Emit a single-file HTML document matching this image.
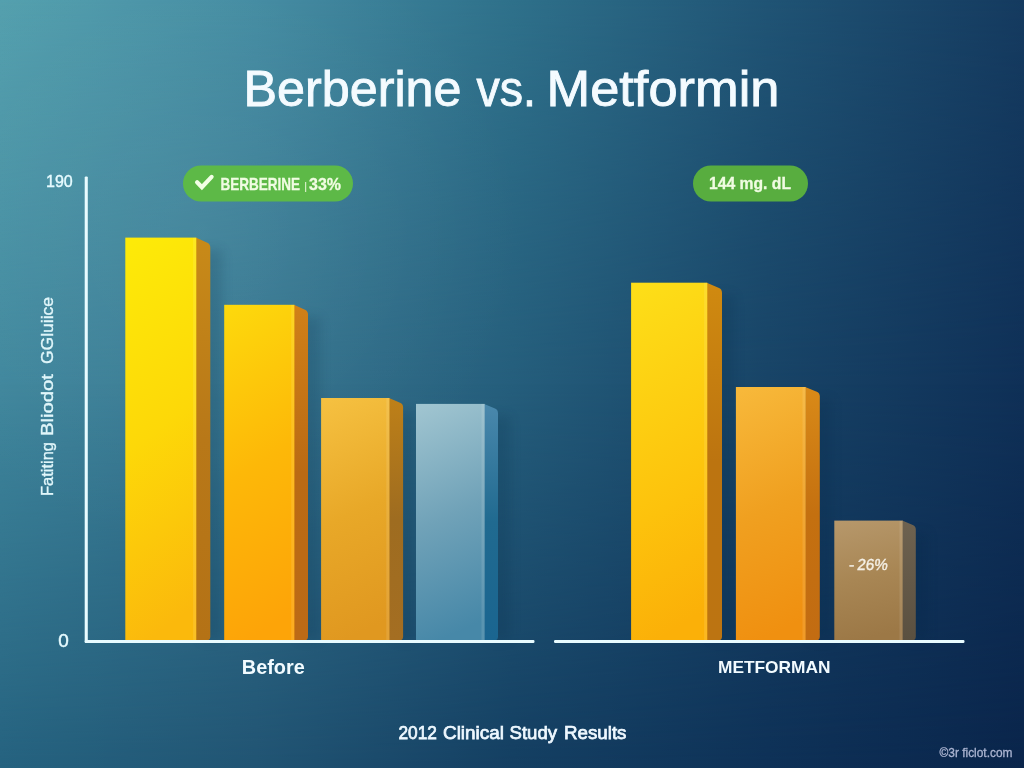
<!DOCTYPE html>
<html lang="en"><head><meta charset="utf-8"><title>Berberine vs. Metformin</title>
<style>
html,body{margin:0;padding:0;background:#245c7a;}
body{width:1024px;height:768px;overflow:hidden;}
svg{display:block;font-family:"Liberation Sans",sans-serif;}
</style></head><body>
<svg width="1024" height="768" viewBox="0 0 1024 768">
<defs>
<linearGradient id="gT" x1="0" y1="0" x2="1" y2="0"><stop offset="0" stop-color="rgb(84,160,174)"/><stop offset="0.25" stop-color="rgb(68,140,162)"/><stop offset="0.5" stop-color="rgb(47,113,139)"/><stop offset="0.75" stop-color="rgb(32,84,117)"/><stop offset="1" stop-color="rgb(21,59,96)"/></linearGradient>
<linearGradient id="gM" x1="0" y1="0" x2="1" y2="0"><stop offset="0" stop-color="rgb(64,135,157)"/><stop offset="0.25" stop-color="rgb(53,116,142)"/><stop offset="0.5" stop-color="rgb(37,94,124)"/><stop offset="0.75" stop-color="rgb(24,68,103)"/><stop offset="1" stop-color="rgb(15,48,87)"/></linearGradient>
<linearGradient id="gB" x1="0" y1="0" x2="1" y2="0"><stop offset="0" stop-color="rgb(37,98,127)"/><stop offset="0.25" stop-color="rgb(33,84,115)"/><stop offset="0.5" stop-color="rgb(20,63,98)"/><stop offset="0.75" stop-color="rgb(14,49,87)"/><stop offset="1" stop-color="rgb(10,37,75)"/></linearGradient>
<linearGradient id="a1" gradientUnits="userSpaceOnUse" x1="0" y1="0" x2="0" y2="384"><stop offset="0" stop-color="#000"/><stop offset="1" stop-color="#fff"/></linearGradient>
<linearGradient id="a2" gradientUnits="userSpaceOnUse" x1="0" y1="384" x2="0" y2="768"><stop offset="0" stop-color="#000"/><stop offset="1" stop-color="#fff"/></linearGradient>
<mask id="m1" maskUnits="userSpaceOnUse" x="0" y="0" width="1024" height="768"><rect width="1024" height="768" fill="url(#a1)"/></mask>
<mask id="m2" maskUnits="userSpaceOnUse" x="0" y="0" width="1024" height="768"><rect width="1024" height="768" fill="url(#a2)"/></mask>
<radialGradient id="hl" gradientUnits="userSpaceOnUse" cx="200" cy="230" r="330"><stop offset="0" stop-color="#fff" stop-opacity="0.045"/><stop offset="1" stop-color="#fff" stop-opacity="0"/></radialGradient>
<filter id="blur" x="-50%" y="-10%" width="200%" height="120%"><feGaussianBlur stdDeviation="6"/></filter>
<linearGradient id="f0" x1="0.2" y1="0" x2="0.33" y2="1"><stop offset="0" stop-color="#fdea08"/><stop offset="0.5" stop-color="#fdd808"/><stop offset="1" stop-color="#fbb90c"/></linearGradient>
<linearGradient id="s0" x1="0" y1="0" x2="0" y2="1"><stop offset="0" stop-color="#c88a18"/><stop offset="0.5" stop-color="#b87818"/><stop offset="1" stop-color="#b47216"/></linearGradient>
<linearGradient id="f1" x1="0.2" y1="0" x2="0.33" y2="1"><stop offset="0" stop-color="#fdd80c"/><stop offset="0.5" stop-color="#fdb808"/><stop offset="1" stop-color="#fda408"/></linearGradient>
<linearGradient id="s1" x1="0" y1="0" x2="0" y2="1"><stop offset="0" stop-color="#d08018"/><stop offset="0.5" stop-color="#ba6a14"/><stop offset="1" stop-color="#bc6a16"/></linearGradient>
<linearGradient id="f2" x1="0.2" y1="0" x2="0.33" y2="1"><stop offset="0" stop-color="#f5c040"/><stop offset="0.5" stop-color="#e8a828"/><stop offset="1" stop-color="#e09820"/></linearGradient>
<linearGradient id="s2" x1="0" y1="0" x2="0" y2="1"><stop offset="0" stop-color="#be8018"/><stop offset="0.5" stop-color="#9e6c20"/><stop offset="1" stop-color="#a46e22"/></linearGradient>
<linearGradient id="f3" x1="0.2" y1="0" x2="0.33" y2="1"><stop offset="0" stop-color="#9fc4d0"/><stop offset="0.5" stop-color="#70a2b8"/><stop offset="1" stop-color="#4788a8"/></linearGradient>
<linearGradient id="s3" x1="0" y1="0" x2="0" y2="1"><stop offset="0" stop-color="#4a88ac"/><stop offset="0.5" stop-color="#206a90"/><stop offset="1" stop-color="#1a6590"/></linearGradient>
<linearGradient id="f4" x1="0.2" y1="0" x2="0.33" y2="1"><stop offset="0" stop-color="#fdde18"/><stop offset="0.65" stop-color="#fdc20c"/><stop offset="1" stop-color="#fbb008"/></linearGradient>
<linearGradient id="s4" x1="0" y1="0" x2="0" y2="1"><stop offset="0" stop-color="#d08a10"/><stop offset="0.5" stop-color="#bc7410"/><stop offset="1" stop-color="#bc7412"/></linearGradient>
<linearGradient id="f5" x1="0.2" y1="0" x2="0.33" y2="1"><stop offset="0" stop-color="#f7b83a"/><stop offset="0.5" stop-color="#f0a020"/><stop offset="1" stop-color="#f09010"/></linearGradient>
<linearGradient id="s5" x1="0" y1="0" x2="0" y2="1"><stop offset="0" stop-color="#d98a18"/><stop offset="0.5" stop-color="#c47010"/><stop offset="1" stop-color="#c26c12"/></linearGradient>
<linearGradient id="f6" x1="0.2" y1="0" x2="0.33" y2="1"><stop offset="0" stop-color="#b6976a"/><stop offset="0.5" stop-color="#a88654"/><stop offset="1" stop-color="#9c7846"/></linearGradient>
<linearGradient id="s6" x1="0" y1="0" x2="0" y2="1"><stop offset="0" stop-color="#6e6250"/><stop offset="1" stop-color="#5a5040"/></linearGradient>
</defs>
<rect width="1024" height="768" fill="url(#gT)"/>
<rect width="1024" height="768" fill="url(#gM)" mask="url(#m1)"/>
<rect width="1024" height="768" fill="url(#gB)" mask="url(#m2)"/>
<rect width="1024" height="768" fill="url(#hl)"/>
<rect x="200.3" y="249.6" width="22" height="390.9" fill="#062040" opacity="0.16" filter="url(#blur)"/>
<path d="M195.8 237.6 L207.3 242.834 Q210.3 244.2 210.3 247.7 L210.3 636.5 Q210.3 640.5 206.3 640.5 L195.8 640.5 Z" fill="url(#s0)"/>
<rect x="125.3" y="237.6" width="71" height="402.9" fill="url(#f0)"/>
<rect x="193.1" y="237.6" width="3" height="402.9" fill="#fff" opacity="0.10"/>
<rect x="298.4" y="316.8" width="21.6" height="323.7" fill="#062040" opacity="0.16" filter="url(#blur)"/>
<path d="M293.9 304.8 L305 309.76 Q308 311.1 308 314.6 L308 636.5 Q308 640.5 304 640.5 L293.9 640.5 Z" fill="url(#s1)"/>
<rect x="224.2" y="304.8" width="70.2" height="335.7" fill="url(#f1)"/>
<rect x="291.2" y="304.8" width="3" height="335.7" fill="#fff" opacity="0.10"/>
<rect x="393.5" y="410" width="21.6" height="230.5" fill="#062040" opacity="0.16" filter="url(#blur)"/>
<path d="M389 398 L400.1 402.723 Q403.1 404 403.1 407.5 L403.1 636.5 Q403.1 640.5 399.1 640.5 L389 640.5 Z" fill="url(#s2)"/>
<rect x="321.1" y="398" width="68.4" height="242.5" fill="url(#f2)"/>
<rect x="386.3" y="398" width="3" height="242.5" fill="#fff" opacity="0.10"/>
<rect x="488.7" y="415.9" width="21.3" height="224.6" fill="#062040" opacity="0.16" filter="url(#blur)"/>
<path d="M484.2 403.9 L495 408.596 Q498 409.9 498 413.4 L498 636.5 Q498 640.5 494 640.5 L484.2 640.5 Z" fill="url(#s3)"/>
<rect x="416" y="403.9" width="68.7" height="236.6" fill="url(#f3)"/>
<rect x="481.5" y="403.9" width="3" height="236.6" fill="#fff" opacity="0.10"/>
<rect x="711.3" y="294.7" width="22.7" height="345.8" fill="#062040" opacity="0.16" filter="url(#blur)"/>
<path d="M706.8 282.7 L719 287.997 Q722 289.3 722 292.8 L722 636.5 Q722 640.5 718 640.5 L706.8 640.5 Z" fill="url(#s4)"/>
<rect x="631.1" y="282.7" width="76.2" height="357.8" fill="url(#f4)"/>
<rect x="704.1" y="282.7" width="3" height="357.8" fill="#fff" opacity="0.10"/>
<rect x="809.7" y="399" width="22.1" height="241.5" fill="#062040" opacity="0.16" filter="url(#blur)"/>
<path d="M805.2 387 L816.8 391.767 Q819.8 393 819.8 396.5 L819.8 636.5 Q819.8 640.5 815.8 640.5 L805.2 640.5 Z" fill="url(#s5)"/>
<rect x="735.9" y="387" width="69.8" height="253.5" fill="url(#f5)"/>
<rect x="802.5" y="387" width="3" height="253.5" fill="#fff" opacity="0.10"/>
<rect x="906.7" y="532.6" width="21.1" height="107.9" fill="#062040" opacity="0.16" filter="url(#blur)"/>
<path d="M902.2 520.6 L912.8 524.887 Q915.8 526.1 915.8 529.6 L915.8 636.5 Q915.8 640.5 911.8 640.5 L902.2 640.5 Z" fill="url(#s6)"/>
<rect x="834.3" y="520.6" width="68.4" height="119.9" fill="url(#f6)"/>
<rect x="899.5" y="520.6" width="3" height="119.9" fill="#fff" opacity="0.10"/>
<rect x="84.7" y="176.4" width="3.1" height="466.5" rx="1.2" fill="#e8fbff"/>
<rect x="84.7" y="640.1" width="449.8" height="2.9" rx="1.2" fill="#e8fbff"/>
<rect x="554" y="640.1" width="410.5" height="2.9" rx="1.2" fill="#e8fbff"/>
<rect x="183" y="165.5" width="170" height="36" rx="18" fill="#5db947"/>
<path d="M197.1 182.3 L201.9 187.3 L211.6 176.9" fill="none" stroke="#f2ffe6" stroke-width="4.2" stroke-linecap="round" stroke-linejoin="miter"/>
<rect x="693" y="165.5" width="115" height="36" rx="18" fill="#58ad3f"/>
<text x="243.5" y="105.7" font-size="49.5" font-weight="normal" fill="#f4fbff" textLength="218" lengthAdjust="spacingAndGlyphs" stroke="#f4fbff" stroke-width="0.9">Berberine</text>
<text x="476.5" y="105.7" font-size="49.5" font-weight="normal" fill="#f4fbff" textLength="59.5" lengthAdjust="spacingAndGlyphs" stroke="#f4fbff" stroke-width="0.9">vs.</text>
<text x="546.5" y="105.7" font-size="49.5" font-weight="normal" fill="#f4fbff" textLength="233" lengthAdjust="spacingAndGlyphs" stroke="#f4fbff" stroke-width="0.9">Metformin</text>
<text x="46" y="187" font-size="16.4" font-weight="normal" fill="#e6fbff" textLength="26.8" lengthAdjust="spacingAndGlyphs" stroke="#e6fbff" stroke-width="0.4">190</text>
<text x="58.2" y="646.5" font-size="17.5" font-weight="normal" fill="#e6fbff" textLength="10.5" lengthAdjust="spacingAndGlyphs" stroke="#e6fbff" stroke-width="0.45">0</text>
<g transform="translate(53,496) rotate(-90)" fill="#e0f6fa" stroke="#e0f6fa" stroke-width="0.35" font-size="16"><text x="0" y="0" textLength="54" lengthAdjust="spacingAndGlyphs">Fatiting</text><text x="60" y="0" textLength="62" lengthAdjust="spacingAndGlyphs">Bliodot</text><text x="132" y="0" textLength="67" lengthAdjust="spacingAndGlyphs">GGluiice</text></g>
<text x="241.8" y="673.8" font-size="19.5" font-weight="bold" fill="#f2fbff" textLength="63" lengthAdjust="spacingAndGlyphs" >Before</text>
<text x="718" y="672.8" font-size="17" font-weight="bold" fill="#f2fbff" textLength="112.5" lengthAdjust="spacingAndGlyphs" >METFORMAN</text>
<text x="398.5" y="739" font-size="19" font-weight="normal" fill="#eef8ff" textLength="38.5" lengthAdjust="spacingAndGlyphs" stroke="#eef8ff" stroke-width="0.75">2012</text>
<text x="443" y="739" font-size="19" font-weight="normal" fill="#eef8ff" textLength="61" lengthAdjust="spacingAndGlyphs" stroke="#eef8ff" stroke-width="0.75">Clinical</text>
<text x="509.5" y="739" font-size="19" font-weight="normal" fill="#eef8ff" textLength="47.5" lengthAdjust="spacingAndGlyphs" stroke="#eef8ff" stroke-width="0.75">Study</text>
<text x="564" y="739" font-size="19" font-weight="normal" fill="#eef8ff" textLength="62.5" lengthAdjust="spacingAndGlyphs" stroke="#eef8ff" stroke-width="0.75">Results</text>
<g transform="translate(0,569.8) skewX(-7) translate(0,-569.8)"><text x="848.5" y="569.8" font-size="16" font-weight="normal" fill="#f4efe4" stroke="#f4efe4" stroke-width="0.4">-</text><text x="856.8" y="569.8" font-size="16" font-weight="normal" fill="#f4efe4" textLength="30.5" lengthAdjust="spacingAndGlyphs" stroke="#f4efe4" stroke-width="0.4">26%</text></g>
<text x="939.5" y="756.6" font-size="12.2" font-weight="normal" fill="#b4bcd8" textLength="73" lengthAdjust="spacingAndGlyphs" stroke="#b4bcd8" stroke-width="0.3" opacity="0.95">©3r ficlot.com</text>
<text x="220.5" y="189.5" font-size="16.3" font-weight="bold" fill="#f0fce2" textLength="79.5" lengthAdjust="spacingAndGlyphs" stroke="#f0fce2" stroke-width="0.3">BERBERINE</text>
<text x="304.2" y="189.5" font-size="11" font-weight="normal" fill="#f0fce2" >|</text>
<text x="309" y="189.5" font-size="16.3" font-weight="bold" fill="#f0fce2" textLength="32" lengthAdjust="spacingAndGlyphs" stroke="#f0fce2" stroke-width="0.3">33%</text>
<text x="709" y="189.3" font-size="15.8" font-weight="bold" fill="#f0fce2" textLength="82" lengthAdjust="spacingAndGlyphs" stroke="#f0fce2" stroke-width="0.3">144 mg. dL</text>
</svg>
</body></html>
